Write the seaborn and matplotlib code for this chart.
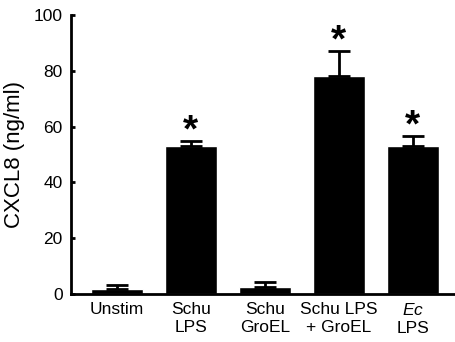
import numpy as np
import pandas as pd
import matplotlib
matplotlib.use('Agg')
import matplotlib.pyplot as plt
import seaborn as sns

# data
groups = ['Unstim', 'Schu\nLPS', 'Schu\nGroEL', 'Schu LPS\n+ GroEL', '$\\mathit{Ec}$\nLPS']
means = [1.9, 52.9, 2.6, 78.0, 52.9]
errs = [1.4, 2.0, 1.8, 9.2, 3.8]
signif = [False, True, False, True, True]

sns.set_style('ticks', {'axes.edgecolor': 'black', 'text.color': 'black',
                        'xtick.color': 'black', 'ytick.color': 'black',
                        'axes.labelcolor': 'black'})
plt.rcParams['font.family'] = ['Liberation Sans', 'DejaVu Sans']
plt.rcParams['mathtext.fontset'] = 'custom'
plt.rcParams['mathtext.it'] = 'Liberation Sans:italic'
plt.rcParams['mathtext.rm'] = 'Liberation Sans'

df = pd.DataFrame({'group': groups, 'mean': means})

fig = plt.figure(figsize=(4.55, 3.42), dpi=100)
ax = fig.add_axes([0.156, 0.140, 0.844, 0.816])

sns.barplot(data=df, x='group', y='mean', color='black', width=0.7,
            saturation=1, errorbar=None, ax=ax)
x = np.arange(len(groups))
ax.errorbar(x, means, yerr=[np.zeros(len(errs)), errs], fmt='none',
            ecolor='black', elinewidth=2, capsize=8, capthick=2)

for xi, m, e, s in zip(x, means, errs, signif):
    if s:
        ax.text(xi, m + e + 3.4, '*', ha='center', va='center',
                fontsize=28, fontweight='bold', color='black')

ax.set_xlim(-0.62, 4.57)
ax.set_ylim(0, 100)
ax.set_yticks([0, 20, 40, 60, 80, 100])
ax.set_xlabel('')
ax.set_ylabel('CXCL8 (ng/ml)', fontsize=16, labelpad=6, color='black')
ax.tick_params(axis='y', direction='in', length=3, width=2, labelsize=12.5, pad=6,
               colors='black')
ax.tick_params(axis='x', length=0, labelsize=12.5, pad=6, colors='black')
sns.despine(ax=ax, top=True, right=True)
for sp in ['left', 'bottom']:
    ax.spines[sp].set_linewidth(2)
    ax.spines[sp].set_color('black')

plt.savefig('out.png', dpi=100)
